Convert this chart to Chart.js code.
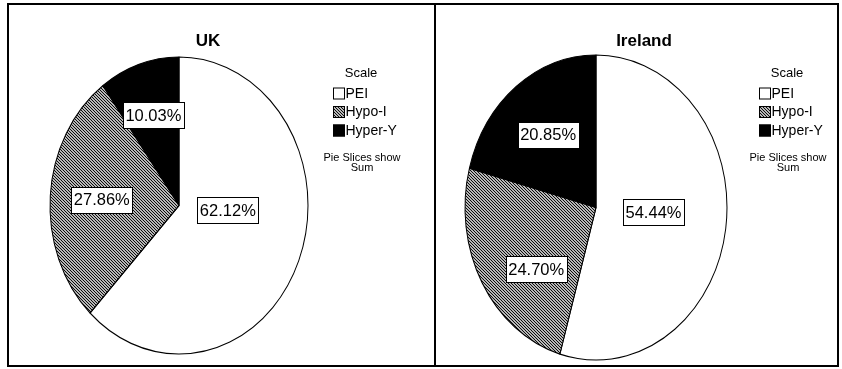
<!DOCTYPE html>
<html>
<head>
<meta charset="utf-8">
<script src="https://cdn.jsdelivr.net/npm/chart.js@4.4.1/dist/chart.umd.min.js"></script>
<style>
  html, body { margin: 0; padding: 0; background: #fff; }
  body { width: 842px; height: 369px; position: relative; overflow: hidden; }
  canvas { position: absolute; top: 0; }
  #ukChart { left: 0; }
  #ieChart { left: 434px; }
</style>
</head>
<body>
<canvas id="ukChart" width="436" height="369"></canvas>
<canvas id="ieChart" width="408" height="369"></canvas>
<script>
// Categories and shares of the sum (percent) for each country
const categories = ['PEI', 'Hypo-I', 'Hyper-Y'];
const ukValues = [62.12, 27.86, 10.03];
const irelandValues = [54.44, 24.70, 20.85];
const chartTitles = ['UK', 'Ireland'];
const legendHeading = 'Scale';
const legendNote = ['Pie Slices show', 'Sum'];

const FONT = '"Liberation Sans", Arial, Helvetica, sans-serif';

// Fine diagonal hatch tile used for the middle slice
function makeHatch(ctx, stretch) {
  const tile = document.createElement('canvas');
  tile.width = 3; tile.height = 3;
  const t = tile.getContext('2d');
  t.fillStyle = '#fff';
  t.fillRect(0, 0, 3, 3);
  t.strokeStyle = '#000';
  t.lineWidth = 1.1;
  t.beginPath();
  for (const o of [-3, 0, 3]) {
    t.moveTo(o - 1, -1);
    t.lineTo(o + 4, 4);
  }
  t.stroke();
  const p = ctx.createPattern(tile, 'repeat');
  if (stretch && p.setTransform) p.setTransform(new DOMMatrix().scale(1, 1 / stretch));
  return p;
}

// Squashes the round pie into an upright ellipse, and draws frame, title, legend, value boxes
const ellipsePie = {
  id: 'ellipsePie',
  beforeDatasetsDraw(chart, args, opts) {
    const arc = chart.getDatasetMeta(0).data[0];
    const cy = arc.y;
    const ctx = chart.ctx;
    ctx.save();
    ctx.translate(0, cy);
    ctx.scale(1, opts.stretch);
    ctx.translate(0, -cy);
  },
  afterDatasetsDraw(chart) {
    chart.ctx.restore();
  },
  beforeDraw(chart, args, opts) {
    const ctx = chart.ctx;
    ctx.save();
    ctx.strokeStyle = '#000';
    ctx.lineWidth = 2;
    ctx.beginPath();
    for (const seg of opts.frame) {
      ctx.moveTo(seg[0], seg[1]);
      ctx.lineTo(seg[2], seg[3]);
    }
    ctx.stroke();
    ctx.restore();
  },
  afterDraw(chart, args, opts) {
    const ctx = chart.ctx;
    const ds = chart.data.datasets[0];
    const meta = chart.getDatasetMeta(0);
    ctx.save();

    // title
    ctx.fillStyle = '#000';
    ctx.textAlign = 'center';
    ctx.textBaseline = 'middle';
    ctx.font = 'bold 17px ' + FONT;
    ctx.fillText(opts.title, opts.titleX, 41);

    // legend
    const lx = opts.legendX;
    ctx.font = '13px ' + FONT;
    ctx.fillText(legendHeading, lx + 28, 73);
    chart.data.labels.forEach((lab, i) => {
      const y = 93.5 + i * 18.5;
      ctx.fillStyle = opts.swatches[i];
      ctx.fillRect(lx, y - 6, 12, 12);
      ctx.strokeStyle = '#000';
      ctx.lineWidth = 1;
      ctx.strokeRect(lx + 0.5, y - 5.5, 11, 11);
      ctx.fillStyle = '#000';
      ctx.textAlign = 'left';
      ctx.font = '14px ' + FONT;
      ctx.fillText(lab, lx + 12.5, y + 0.5);
    });
    ctx.textAlign = 'center';
    ctx.font = '11px ' + FONT;
    ctx.fillText(legendNote[0], lx + 29, 157.5);
    ctx.fillText(legendNote[1], lx + 29, 168);

    // value boxes on the slices
    ctx.font = '16.5px ' + FONT;
    meta.data.forEach((el, i) => {
      const p = el.getProps(['x', 'y', 'startAngle', 'endAngle', 'outerRadius'], true);
      const mid = (p.startAngle + p.endAngle) / 2 + opts.labelTurn[i] * Math.PI / 180;
      const r = p.outerRadius * opts.labelRadius[i];
      const x = p.x + Math.cos(mid) * r;
      const y = p.y + Math.sin(mid) * r * opts.stretch;
      const text = ds.data[i].toFixed(2) + '%';
      const w = ctx.measureText(text).width + 5;
      const h = 26;
      ctx.fillStyle = '#fff';
      ctx.fillRect(Math.round(x - w / 2), Math.round(y - h / 2), Math.round(w), h);
      ctx.strokeStyle = '#000';
      ctx.lineWidth = 1;
      ctx.strokeRect(Math.round(x - w / 2) + 0.5, Math.round(y - h / 2) + 0.5, Math.round(w), h);
      ctx.fillStyle = '#000';
      ctx.textAlign = 'center';
      ctx.textBaseline = 'middle';
      ctx.fillText(text, x, y + 1);
    });
    ctx.restore();
  }
};

function buildPie(id, values, cfg) {
  const canvas = document.getElementById(id);
  const ctx = canvas.getContext('2d');
  const hatchPie = makeHatch(ctx, cfg.stretch);
  const hatchKey = makeHatch(ctx, 0);
  return new Chart(canvas, {
    type: 'pie',
    data: {
      labels: categories,
      datasets: [{
        data: values,
        backgroundColor: ['#ffffff', hatchPie, '#000000'],
        borderColor: '#000',
        borderWidth: 1,
        hoverOffset: 0
      }]
    },
    options: {
      responsive: false,
      animation: false,
      events: [],
      radius: cfg.radius,
      layout: { padding: cfg.padding },
      plugins: {
        legend: { display: false },
        title: { display: false },
        tooltip: { enabled: false },
        ellipsePie: {
          stretch: cfg.stretch,
          frame: cfg.frame,
          title: cfg.title,
          titleX: cfg.titleX,
          legendX: cfg.legendX,
          swatches: ['#ffffff', hatchKey, '#000000'],
          labelRadius: cfg.labelRadius,
          labelTurn: cfg.labelTurn
        }
      }
    },
    plugins: [ellipsePie]
  });
}

buildPie('ukChart', ukValues, {
  title: chartTitles[0],
  titleX: 208,
  legendX: 333,
  radius: 129,
  stretch: 1.151,
  padding: { left: 49, right: 127, top: 75.5, bottom: 33.5 },
  frame: [[8, 3, 8, 367], [7, 4, 436, 4], [7, 366, 436, 366], [435, 3, 435, 367]],
  labelRadius: [0.38, 0.6, 0.64],
  labelTurn: [-17, 0, 0]
});

buildPie('ieChart', irelandValues, {
  title: chartTitles[1],
  titleX: 210,
  legendX: 325,
  radius: 131,
  stretch: 1.164,
  padding: { left: 30, right: 114, top: 75.5, bottom: 29.5 },
  frame: [[1, 3, 1, 367], [0, 4, 405, 4], [0, 366, 405, 366], [404, 3, 404, 367]],
  labelRadius: [0.44, 0.61, 0.6],
  labelTurn: [-4, -12, 0]
});
</script>
</body>
</html>
